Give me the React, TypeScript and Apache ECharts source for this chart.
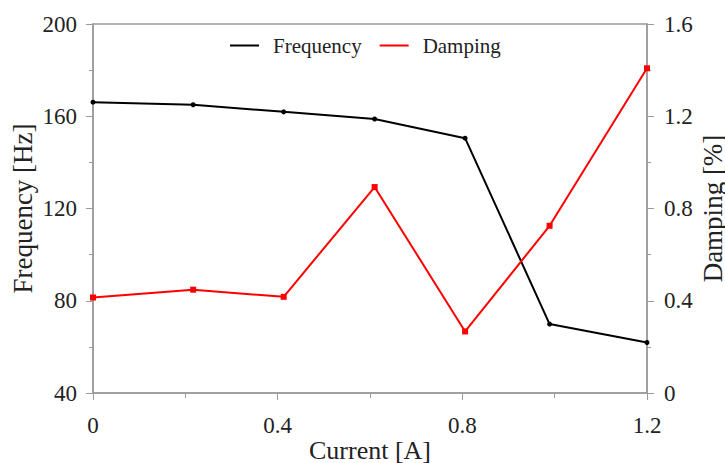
import React, { useEffect, useRef } from "react";
import * as echarts from "echarts";

const currents = [0, 0.217, 0.413, 0.61, 0.806, 0.989, 1.2];
const frequency = [166.1, 165.0, 161.9, 158.8, 150.5, 69.9, 61.9];
const damping = [0.414, 0.448, 0.417, 0.893, 0.267, 0.725, 1.408];
const freqTicks = [40, 200, 40];
const dampTicks = [0, 1.6, 0.4];
const currentTicks = [0, 1.2, 0.4];

const FONT = "Liberation Serif";
const AX = "#9a9a9a";

export default function App() {
  const ref = useRef<HTMLDivElement>(null);
  useEffect(() => {
    if (!ref.current) return;
    const chart = echarts.init(ref.current, undefined, { renderer: "svg" });
    const fmt = (v: number) => String(parseFloat(v.toFixed(2)));
    const axisCommon = {
      axisLine: { show: true, lineStyle: { color: AX, width: 1.5 } },
      splitLine: { show: false },
      nameMoveOverlap: false,
      axisLabel: { fontFamily: FONT, fontSize: 23, color: "#222", formatter: fmt },
      nameTextStyle: { fontFamily: FONT, fontSize: 27, color: "#222" },
    };
    chart.setOption({
      animation: false,
      backgroundColor: "#fff",
      grid: {
        left: 93,
        right: 78,
        top: 24,
        bottom: 70,
        containLabel: false,
        outerBoundsMode: "none",
        show: true,
        borderColor: AX,
        borderWidth: 1.5,
      },
      legend: {
        top: 30,
        left: 225,
        itemWidth: 29,
        itemHeight: 2,
        itemGap: 18,
        icon: "rect",
        textStyle: { fontFamily: FONT, fontSize: 21, color: "#222", padding: [0, 0, 0, 9] },
        data: [
          { name: "Frequency", itemStyle: { color: "#000" } },
          { name: "Damping", itemStyle: { color: "#ff0000" } },
        ],
      },
      xAxis: {
        ...axisCommon,
        type: "value",
        min: currentTicks[0],
        max: currentTicks[1],
        interval: currentTicks[2],
        name: "Current [A]",
        nameLocation: "middle",
        nameGap: 44,
        nameTextStyle: { fontFamily: FONT, fontSize: 26, color: "#222" },
        axisTick: { show: true, inside: false, length: 7, lineStyle: { color: AX } },
        minorTick: { show: true, splitNumber: 2, length: 5, lineStyle: { color: AX } },
        axisLabel: { ...axisCommon.axisLabel, margin: 21 },
      },
      yAxis: [
        {
          ...axisCommon,
          type: "value",
          min: freqTicks[0],
          max: freqTicks[1],
          interval: freqTicks[2],
          name: "Frequency [Hz]",
          nameLocation: "middle",
          nameGap: 57,
          position: "left",
          axisTick: { show: true, length: 7, lineStyle: { color: AX } },
          minorTick: { show: true, splitNumber: 2, length: 4, lineStyle: { color: AX } },
          axisLabel: { ...axisCommon.axisLabel, margin: 16 },
        },
        {
          ...axisCommon,
          type: "value",
          min: dampTicks[0],
          max: dampTicks[1],
          interval: dampTicks[2],
          name: "Damping [%]",
          nameLocation: "middle",
          nameGap: 52,
          position: "right",
          axisTick: { show: true, length: 7, lineStyle: { color: AX } },
          minorTick: { show: true, splitNumber: 2, length: 4, lineStyle: { color: AX } },
          axisLabel: { ...axisCommon.axisLabel, margin: 17 },
        },
      ],
      series: [
        {
          name: "Frequency",
          type: "line",
          yAxisIndex: 0,
          data: currents.map((c, i) => [c, frequency[i]]),
          lineStyle: { color: "#000", width: 2 },
          itemStyle: { color: "#000" },
          symbol: "circle",
          symbolSize: 5,
        },
        {
          name: "Damping",
          type: "line",
          yAxisIndex: 1,
          data: currents.map((c, i) => [c, damping[i]]),
          lineStyle: { color: "#ff0000", width: 2 },
          itemStyle: { color: "#ff0000" },
          symbol: "rect",
          symbolSize: 6,
        },
      ],
    });
    return () => chart.dispose();
  }, []);
  return <div ref={ref} style={{ width: 725, height: 463, position: "absolute", left: 0, top: 0 }} />;
}
